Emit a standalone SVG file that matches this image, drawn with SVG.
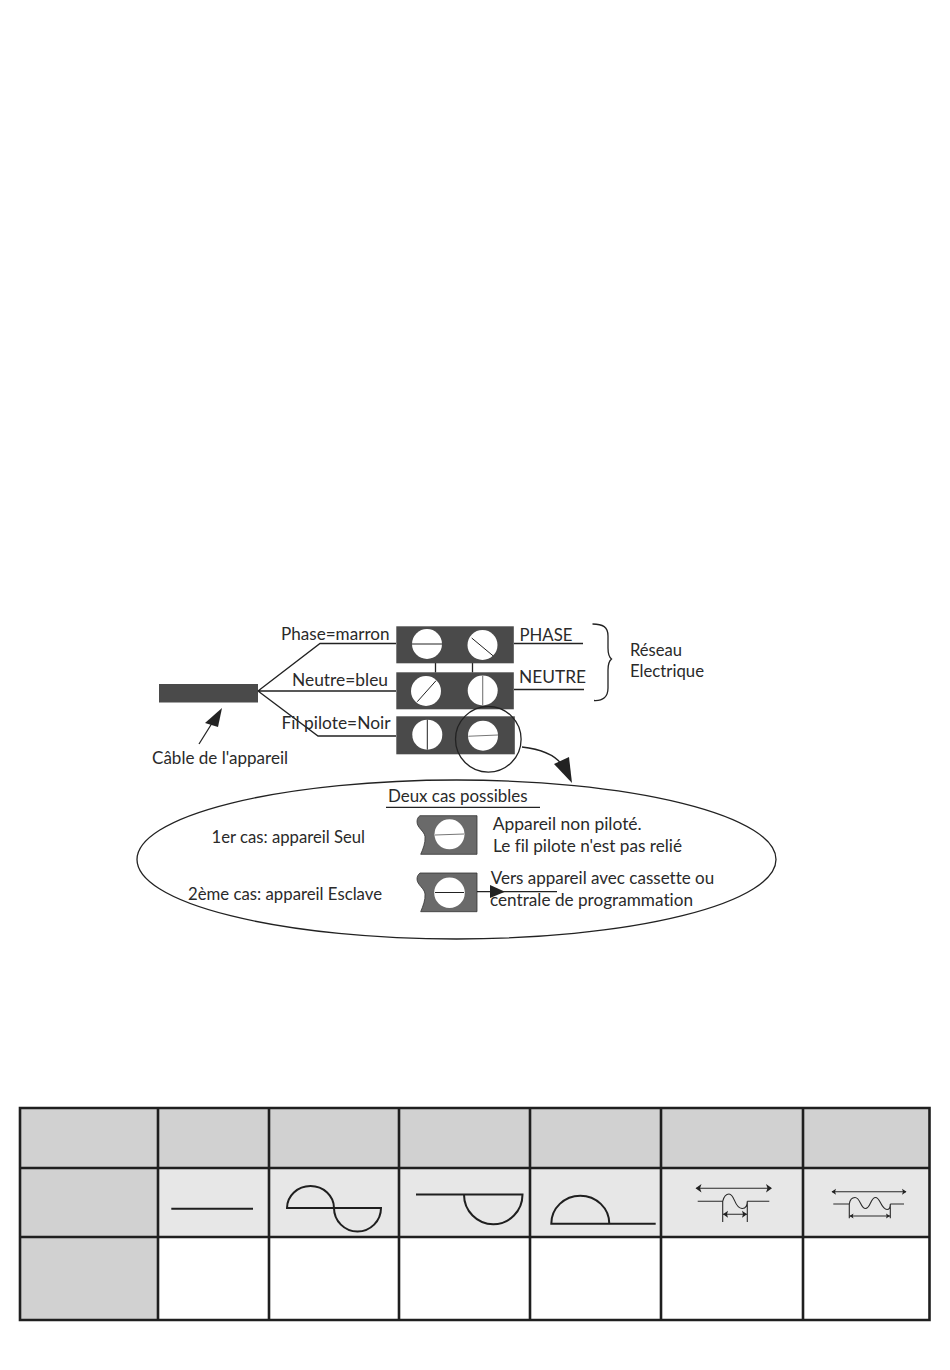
<svg xmlns="http://www.w3.org/2000/svg" width="950" height="1370" viewBox="0 0 950 1370">
<style>
text{font-family:"Lato","Noto Sans","Liberation Sans",sans-serif;font-size:16.5px;fill:#2a2a2a;font-variant-ligatures:none}
.blk{fill:#4a4a4a}
.sblk{fill:#6a6a6a;stroke:#333;stroke-width:.8}
.scr{fill:#fff}
.sl{stroke:#222;stroke-width:1;fill:none}
.slg{stroke:#777;stroke-width:1.1;fill:none}
.w{stroke:#222;stroke-width:1.3;fill:none}
.ah{fill:#222}
.tl{stroke:#1f1f1f;stroke-width:2.6;fill:none;stroke-linecap:square}
.sy{stroke:#1f1f1f;stroke-width:2;fill:none}
.sn{stroke:#2a2a2a;stroke-width:1.1;fill:none}
.hd{fill:#d1d1d1}
.md{fill:#e7e7e7}
</style>

<g id="cable"><rect class="blk" x="159" y="684" width="99" height="18.500"/></g>
<g id="connectors">
<path class="w" d="M258 691L320 643.500H396M258 691H396M258 691L318 736H396"/>
<path class="w" d="M435.500 663V672.500M472.500 663V672.500"/>
<path class="w" d="M514 643.500H583M514 689.500H584"/>
<path class="w" d="M199 744L214 720"/>
<path class="ah" d="M222 708L205 723L218 727Z"/>
<path class="w" d="M522 747C540 749 555 754 563 766"/>
<path class="ah" d="M572 783L554 764L569 757Z"/>
<path class="w" d="M592.500 624C603 624 608 627 608 636V648C608 654 609 657 611.500 659C609 661 608 664 608 670V688C608 697 603 701 594 700.500"/>
</g>
<g id="bornier-phase"><rect class="blk" x="396.300" y="626.300" width="117.500" height="37"/>
<circle class="scr" cx="427" cy="644" r="15"/><path class="sl" d="M412 644H442"/>
<circle class="scr" cx="482.500" cy="645" r="15"/><path class="sl" d="M471.700 638L493.300 656"/></g>
<g id="bornier-neutre"><rect class="blk" x="396.300" y="672.300" width="117.500" height="37"/>
<circle class="scr" cx="426" cy="691" r="15"/><path class="sl" d="M417.300 701.700L436 680.700"/>
<circle class="scr" cx="482.700" cy="690.500" r="15"/><path class="slg" d="M482.700 675.500V705.500"/></g>
<g id="bornier-pilote"><rect class="blk" x="396.300" y="716.300" width="118.500" height="38"/>
<circle class="scr" cx="427.300" cy="734.700" r="15"/><path class="sl" d="M427.300 719.700V749.700"/>
<circle class="scr" cx="483" cy="735.700" r="15"/><path class="slg" d="M468.300 736.300L498 735"/></g>
<g id="loupe"><circle cx="488.300" cy="739.300" r="32.800" fill="none" stroke="#222" stroke-width="1.3"/></g>

<g id="labels-fils">
<text x="281" y="639.500" textLength="108.500" lengthAdjust="spacingAndGlyphs">Phase=marron</text>
<text x="292" y="686.200" textLength="96" lengthAdjust="spacingAndGlyphs">Neutre=bleu</text>
<text x="281.500" y="728.500" textLength="109" lengthAdjust="spacingAndGlyphs">Fil pilote=Noir</text>
<text x="152" y="763.700" textLength="136" lengthAdjust="spacingAndGlyphs">Câble de l'appareil</text>
<text x="519.500" y="641" textLength="53" lengthAdjust="spacingAndGlyphs">PHASE</text>
<text x="519" y="682.500" textLength="67" lengthAdjust="spacingAndGlyphs">NEUTRE</text>
<text x="630" y="655.500" textLength="52" lengthAdjust="spacingAndGlyphs">Réseau</text>
<text x="630" y="677.200" textLength="74" lengthAdjust="spacingAndGlyphs">Electrique</text>
</g>

<g id="bulle">
<ellipse cx="456.500" cy="859.500" rx="319.500" ry="79.500" fill="#fff" stroke="#222" stroke-width="1.3"/>
<text x="388" y="801.500" textLength="139.500" lengthAdjust="spacingAndGlyphs">Deux cas possibles</text>
<path class="w" d="M386 807.300H540"/>
<text x="211.500" y="842.800" textLength="153.500" lengthAdjust="spacingAndGlyphs">1er cas: appareil Seul</text>
<text x="188" y="899.500" textLength="194" lengthAdjust="spacingAndGlyphs">2ème cas: appareil Esclave</text>
</g>
<g id="cas-seul">
<path class="sblk" d="M420 815.700H477V854.300H420.700C423 849 425.500 843 425 836.700C424.500 831 417 828 417 821.700C417 819 418 817 420 815.700Z"/>
<circle class="scr" cx="449.500" cy="834.300" r="15"/><path class="slg" d="M435 835L464 834"/>
<text x="492.700" y="829.500" textLength="149" lengthAdjust="spacingAndGlyphs">Appareil non piloté.</text>
<text x="493" y="852.200" textLength="189" lengthAdjust="spacingAndGlyphs">Le fil pilote n'est pas relié</text>
</g>
<g id="cas-esclave">
<path class="sblk" d="M420 873H477V911.700H420.700C423 906 425.500 900 425 894C424.500 888 417 885 417 879C417 876.500 418 874.500 420 873Z"/>
<circle class="scr" cx="449.500" cy="892.700" r="15.300"/><path class="sl" d="M435 892.500H464"/>
<path class="w" d="M477 891.700H557"/><path class="ah" d="M505 891.700L490 885V898Z"/>
<text x="490.700" y="883.800" textLength="223.500" lengthAdjust="spacingAndGlyphs">Vers appareil avec cassette ou</text>
<text x="490" y="905.500" textLength="203" lengthAdjust="spacingAndGlyphs">centrale de programmation</text>
</g>

<g id="tableau">
<rect class="hd" x="20" y="1108" width="909.500" height="60"/>
<rect class="hd" x="20" y="1168" width="138" height="152"/>
<rect class="md" x="158" y="1168" width="771.500" height="69"/>
<path class="tl" d="M20 1108H929.500V1320H20ZM20 1168H929.500M20 1237H929.500M158 1108V1320M269 1108V1320M399 1108V1320M530 1108V1320M661 1108V1320M803 1108V1320"/>
</g>
<g id="signal-continu"><path class="sy" d="M171.300 1208.700H253"/></g>
<g id="signal-alternance"><path class="sy" d="M287 1208H381A23.500 23.500 0 0 1 334 1208A23.500 22 0 0 0 287 1208Z"/></g>
<g id="signal-negative"><path class="sy" d="M416 1194.500H522.500A29 29.500 0 0 1 464 1194.500"/></g>
<g id="signal-positive"><path class="sy" d="M655.700 1223.700H551.300A29 28 0 0 1 609.300 1223.700"/></g>
<g id="signal-impulsion">
<path class="sn" d="M697.700 1201.300H722.700V1222M722.700 1201.300C724 1196 726 1194 729 1194C735 1194 734 1208 742 1208.500C746 1208.700 747.300 1205 747.300 1201.300V1222M747.300 1201.300H769.300"/>
<path class="sn" d="M696.500 1188.300H771M723 1214.300H747"/>
<path class="ah" d="M695.500 1188.300L701.500 1184L700 1188.300L701.500 1192.500ZM772 1188.300L766 1184L767.500 1188.300L766 1192.500ZM723 1214.300L728 1210.800L727 1214.300L728 1217.800ZM747 1214.300L742 1210.800L743 1214.300L742 1217.800Z"/>
</g>
<g id="signal-double">
<path class="sn" d="M833.300 1204H849.300V1218.300M849.300 1204C850 1199 852 1197.500 855 1197.500C860.500 1197.500 860.500 1208.500 865.500 1208.500C870.500 1208.500 870.500 1197.500 875.500 1197.500C880.500 1197.500 881 1209.500 887 1209.500C889.500 1209.500 890.300 1207 890.300 1204V1218.300M890.300 1204H904"/>
<path class="sn" d="M832 1191.700H906M849.500 1216H890"/>
<path class="ah" d="M831.500 1191.700L836 1188.700L835 1191.700L836 1194.700ZM906.500 1191.700L902 1188.700L903 1191.700L902 1194.700ZM849.500 1216L853.500 1213.500L852.700 1216L853.500 1218.500ZM890 1216L886 1213.500L886.800 1216L886 1218.500Z"/>
</g>
</svg>
